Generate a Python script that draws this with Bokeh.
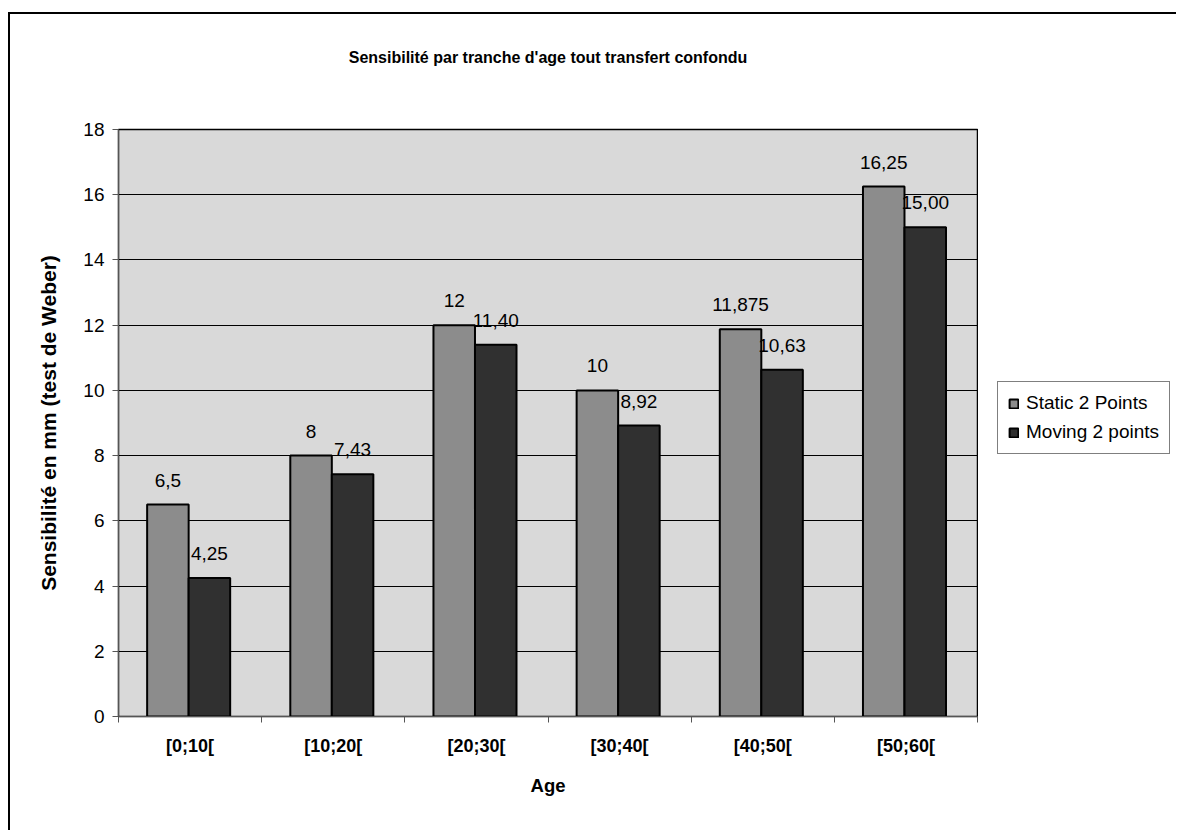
from bokeh.plotting import figure
from bokeh.layouts import row
from bokeh.models import (ColumnDataSource, FixedTicker, Legend, LegendItem, LabelSet)
from bokeh.core.properties import value
from bokeh.embed import file_html
from bokeh.resources import INLINE

# ---- data ----
categories = ["[0;10[", "[10;20[", "[20;30[", "[30;40[", "[40;50[", "[50;60["]
series_names = ["Static 2 Points", "Moving 2 points"]
static_vals = [6.5, 8, 12, 10, 11.875, 16.25]
moving_vals = [4.25, 7.43, 11.40, 8.92, 10.63, 15.00]
static_labels = ["6,5", "8", "12", "10", "11,875", "16,25"]
moving_labels = ["4,25", "7,43", "11,40", "8,92", "10,63", "15,00"]
y_ticks = [0, 2, 4, 6, 8, 10, 12, 14, 16, 18]

title_text = "Sensibilité par tranche d'age tout transfert confondu"
y_label = "Sensibilité en mm (test de Weber)"
x_label = "Age"

FONT = "Liberation Sans"
BAR_W = 0.29
H = 830
W_MAIN = 978
W_LEG = 198
STATIC_STYLE = dict(fill_color="#8c8c8c", line_color="black", line_width=2)
MOVING_STYLE = dict(fill_color="#303030", line_color="black", line_width=2)

centers = [i + 0.5 for i in range(len(categories))]
src_s = ColumnDataSource(dict(x=[c - 0.155 for c in centers], top=static_vals, lab=static_labels))
src_m = ColumnDataSource(dict(x=[c + 0.135 for c in centers], top=moving_vals, lab=moving_labels))

p = figure(width=W_MAIN, height=H, x_range=(0, len(categories)), y_range=(0, 18),
           output_backend="svg", toolbar_location=None,
           min_border_left=118, min_border_right=W_MAIN - 977, min_border_top=129,
           min_border_bottom=H - 716)

p.background_fill_color = "#d9d9d9"
p.border_fill_color = None
p.outline_line_color = "black"
p.outline_line_width = 1.5

# title (trailing blank lines lift it away from the frame)
p.title.text = title_text + "\n \n \n "
p.title.align = "center"
p.title.text_font = FONT
p.title.text_font_size = "16px"
p.title.text_font_style = "bold"
p.title.text_color = "black"
p.title.text_line_height = 1.15
p.title.standoff = 10

# grid
p.xgrid.grid_line_color = None
p.ygrid.grid_line_color = "black"
p.ygrid.grid_line_width = 1
p.ygrid.ticker = FixedTicker(ticks=y_ticks)

# y axis
p.yaxis.ticker = FixedTicker(ticks=y_ticks)
p.yaxis.axis_label = y_label
p.yaxis.axis_label_text_font = FONT
p.yaxis.axis_label_text_font_size = "21px"
p.yaxis.axis_label_text_font_style = "bold"
p.yaxis.axis_label_text_color = "black"
p.yaxis.axis_label_standoff = 20
p.yaxis.major_label_text_font = FONT
p.yaxis.major_label_text_font_size = "19px"
p.yaxis.major_label_text_color = "black"
p.yaxis.major_label_standoff = 8
p.yaxis.major_tick_in = 0
p.yaxis.major_tick_out = 6
p.yaxis.major_tick_line_color = "#555555"
p.yaxis.minor_tick_line_color = None
p.yaxis.axis_line_color = "#555555"

# x axis (labels at centers, tick marks at group boundaries)
p.xaxis.ticker = FixedTicker(ticks=centers, minor_ticks=list(range(len(categories) + 1)))
p.xaxis.major_label_overrides = {c: cat for c, cat in zip(centers, categories)}
p.xaxis.major_tick_line_color = None
p.xaxis.major_tick_out = 0
p.xaxis.major_tick_in = 0
p.xaxis.minor_tick_out = 6
p.xaxis.minor_tick_in = 0
p.xaxis.minor_tick_line_color = "#555555"
p.xaxis.axis_line_color = "#555555"
p.xaxis.major_label_text_font = FONT
p.xaxis.major_label_text_font_size = "18px"
p.xaxis.major_label_text_font_style = "bold"
p.xaxis.major_label_text_color = "black"
p.xaxis.major_label_standoff = 13
p.xaxis.axis_label = x_label
p.xaxis.axis_label_text_font = FONT
p.xaxis.axis_label_text_font_size = "18.5px"
p.xaxis.axis_label_text_font_style = "bold"
p.xaxis.axis_label_text_color = "black"
p.xaxis.axis_label_standoff = 16

p.vbar(x="x", top="top", width=BAR_W, bottom=0, source=src_s, **STATIC_STYLE)
p.vbar(x="x", top="top", width=BAR_W, bottom=0, source=src_m, **MOVING_STYLE)

for src in (src_s, src_m):
    p.add_layout(LabelSet(x="x", y="top", text="lab", source=src, text_align="center",
                          text_baseline="alphabetic", y_offset=18, text_font=value(FONT),
                          text_font_size=value("19px"), text_color="black"))

# legend panel (separate figure to the right of the plot; its frame aligns with p's frame)
p2 = figure(width=W_LEG, height=H, x_range=(0, 1), y_range=(0, 1),
            output_backend="svg", toolbar_location=None,
            min_border_left=0, min_border_right=0, min_border_top=0, min_border_bottom=0)
p2.axis.visible = False
p2.grid.visible = False
p2.outline_line_color = None
p2.background_fill_color = None
p2.border_fill_color = None
l_s = p2.vbar(x="x", top="top", width=BAR_W, source=src_s, visible=False, **STATIC_STYLE)
l_m = p2.vbar(x="x", top="top", width=BAR_W, source=src_m, visible=False, **MOVING_STYLE)

legend = Legend(items=[LegendItem(label=series_names[0], renderers=[l_s]),
                       LegendItem(label=series_names[1], renderers=[l_m])],
                location=(997 - W_MAIN, 716 - 454), orientation="vertical")
legend.label_text_font = FONT
legend.label_text_font_size = "19px"
legend.label_text_color = "black"
legend.glyph_width = 11
legend.glyph_height = 11
legend.label_standoff = 7
legend.label_height = 20
legend.spacing = 7
legend.padding = 10
legend.margin = 0
legend.inactive_fill_alpha = 0
legend.border_line_color = "black"
legend.border_line_width = 1
legend.background_fill_color = "white"
legend.background_fill_alpha = 1
p2.add_layout(legend)

layout = row(p, p2, spacing=0)
layout.styles = {"box-shadow": "inset 8px 0 0 0 white, inset 0 12px 0 0 white, inset 10px 14px 0 0 black"}

open("out.html", "w").write(file_html(layout, INLINE))
